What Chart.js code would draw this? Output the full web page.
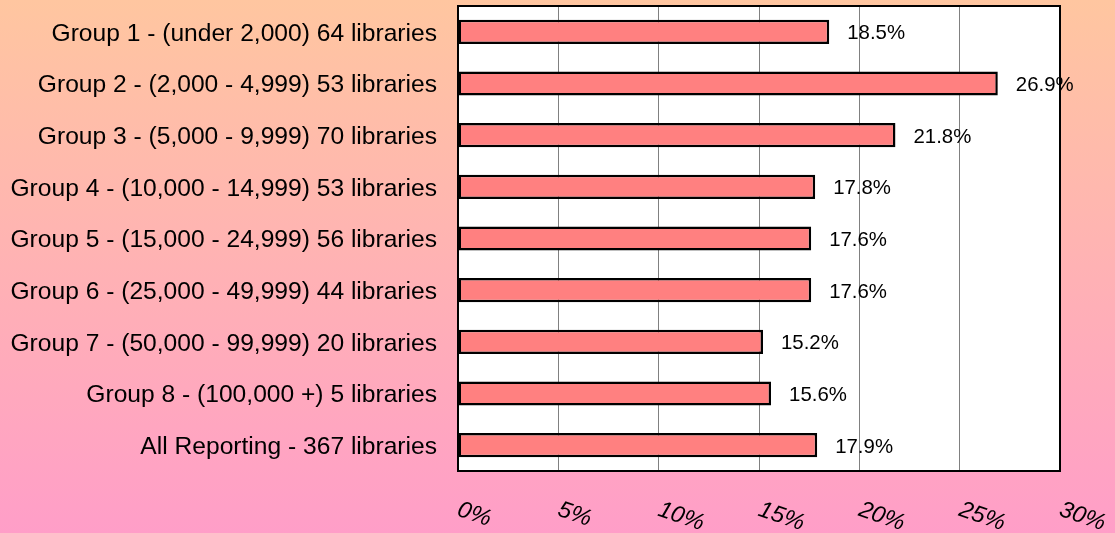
<!DOCTYPE html>
<html>
<head>
<meta charset="utf-8">
<script src="https://cdn.jsdelivr.net/npm/chart.js@4"></script>
<style>
  html, body { margin: 0; padding: 0; }
  #wrap { width: 1115px; height: 533px; }
</style>
</head>
<body>
<div id="wrap"><canvas id="chart"></canvas></div>
<script>
const categories = [
  'Group 1 - (under 2,000) 64 libraries',
  'Group 2 - (2,000 - 4,999) 53 libraries',
  'Group 3 - (5,000 - 9,999) 70 libraries',
  'Group 4 - (10,000 - 14,999) 53 libraries',
  'Group 5 - (15,000 - 24,999) 56 libraries',
  'Group 6 - (25,000 - 49,999) 44 libraries',
  'Group 7 - (50,000 - 99,999) 20 libraries',
  'Group 8 - (100,000 +) 5 libraries',
  'All Reporting - 367 libraries',
];
const values = [18.5, 26.9, 21.8, 17.8, 17.6, 17.6, 15.2, 15.6, 17.9];
const xTicks = [0, 5, 10, 15, 20, 25, 30];

const FONT = '"Liberation Sans", Arial, sans-serif';

// page background + white plot area
const background = {
  id: 'background',
  beforeDraw(chart) {
    const { ctx, width, height, chartArea: a } = chart;
    ctx.save();
    const g = ctx.createLinearGradient(0, 0, 0, height);
    g.addColorStop(0, '#FFC6A0');
    g.addColorStop(1, '#FF9EC8');
    ctx.fillStyle = g;
    ctx.fillRect(0, 0, width, height);
    ctx.fillStyle = '#fff';
    ctx.fillRect(a.left, a.top, a.right - a.left, a.bottom - a.top);
    ctx.restore();
  },
};

// value labels next to the bars
const valueLabels = {
  id: 'valueLabels',
  afterDatasetsDraw(chart) {
    const { ctx } = chart;
    const meta = chart.getDatasetMeta(0);
    ctx.save();
    ctx.font = '20.4px ' + FONT;
    ctx.fillStyle = '#000';
    ctx.textAlign = 'left';
    ctx.textBaseline = 'middle';
    meta.data.forEach((bar, i) => {
      ctx.fillText(values[i].toFixed(1) + '%', bar.x + 18, bar.y + 2);
    });
    ctx.restore();
  },
};

// frame and slanted x tick labels
const frame = {
  id: 'frame',
  afterDraw(chart) {
    const { ctx, chartArea: a } = chart;
    const xs = chart.scales.x;
    ctx.save();
    ctx.strokeStyle = '#000';
    ctx.lineWidth = 2;
    ctx.strokeRect(a.left, a.top, a.right - a.left, a.bottom - a.top);

    ctx.font = 'italic 23.5px ' + FONT;
    ctx.fillStyle = '#000';
    ctx.textAlign = 'left';
    ctx.textBaseline = 'top';
    xTicks.forEach((v) => {
      const x = xs.getPixelForValue(v);
      ctx.save();
      ctx.translate(x + 4, a.bottom + 27);
      ctx.rotate(19 * Math.PI / 180);
      ctx.fillText(v + '%', 0, 0);
      ctx.restore();
    });
    ctx.restore();
  },
};

new Chart(document.getElementById('chart'), {
  type: 'bar',
  data: {
    labels: categories,
    datasets: [{
      data: values,
      backgroundColor: '#FF8080',
      borderColor: '#000',
      borderWidth: 2.5,
      borderSkipped: false,
      barPercentage: 0.9,
      categoryPercentage: 0.52,
    }],
  },
  options: {
    indexAxis: 'y',
    responsive: true,
    maintainAspectRatio: false,
    animation: false,
    layout: { padding: { top: 6, right: 55, left: 0, bottom: 0 } },
    plugins: {
      legend: { display: false },
      tooltip: { enabled: false },
    },
    scales: {
      x: {
        min: 0,
        max: 30,
        ticks: { stepSize: 5, display: false },
        grid: { color: '#808080', lineWidth: 1, drawTicks: false },
        border: { display: false },
        afterFit(scale) {
          scale.height = 62;
          scale.paddingLeft = 0;
          scale.paddingRight = 0;
        },
      },
      y: {
        grid: { display: false, drawTicks: false },
        border: { display: false },
        ticks: {
          color: '#000',
          padding: 21,
          labelOffset: 2,
          font: { family: FONT, size: 24.6 },
        },
        afterFit(scale) {
          scale.width = 458;
          scale.paddingTop = 0;
          scale.paddingBottom = 0;
        },
      },
    },
  },
  plugins: [background, valueLabels, frame],
});
</script>
</body>
</html>
